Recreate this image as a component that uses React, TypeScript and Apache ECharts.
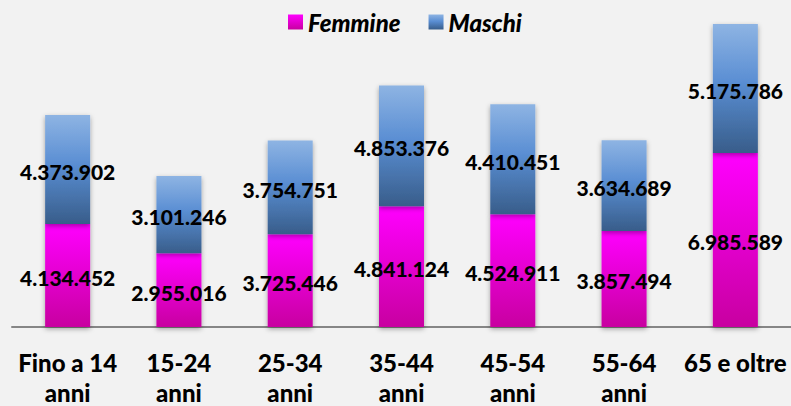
import React, { useEffect, useRef } from "react";
import * as echarts from "echarts";

const categories = ["Fino a 14\nanni", "15-24\nanni", "25-34\nanni", "35-44\nanni", "45-54\nanni", "55-64\nanni", "65 e oltre"];
const femmine = [4134452, 2955016, 3725446, 4841124, 4524911, 3857494, 6985589];
const maschi = [4373902, 3101246, 3754751, 4853376, 4410451, 3634689, 5175786];

const fmt = (v: number) => String(v).replace(/\B(?=(\d{3})+(?!\d))/g, ".");

const FONT = "Lato";

export default function App() {
  const ref = useRef<HTMLDivElement>(null);
  useEffect(() => {
    if (!ref.current) return;
    const chart = echarts.init(ref.current, null, { renderer: "svg" });
    const labelStyle = {
      show: true,
      position: "inside" as const,
      offset: [0, 2],
      formatter: (p: any) => fmt(p.value),
      fontFamily: FONT,
      fontWeight: 900,
      fontSize: 21,
      color: "#000",
    };
    const shadow = {
      shadowColor: "rgba(0,0,0,0.35)",
      shadowBlur: 5,
      shadowOffsetY: 2,
    };
    chart.setOption({
      animation: false,
      backgroundColor: "#f2f2f2",
      legend: {
        left: 283,
        top: 5,
        itemWidth: 15,
        itemHeight: 15,
        itemGap: 28,
        icon: "rect",
        textStyle: {
          fontFamily: FONT,
          fontWeight: 900,
          fontStyle: "italic",
          fontSize: 24,
          color: "#000",
        },
        data: ["Femmine", "Maschi"],
      },
      grid: { left: 12, right: 0, top: 23, bottom: 79, outerBoundsMode: "none", containLabel: false },
      xAxis: {
        type: "category",
        data: categories,
        axisLine: { lineStyle: { color: "#868686", width: 2 } },
        axisTick: { show: false },
        axisLabel: {
          fontFamily: FONT,
          fontWeight: 900,
          fontSize: 24,
          lineHeight: 30,
          color: "#000",
          margin: 20,
          interval: 0,
        },
      },
      yAxis: {
        type: "value",
        min: 0,
        max: 12200000,
        show: false,
        splitLine: { show: false },
      },
      series: [
        {
          name: "Femmine",
          type: "bar",
          stack: "tot",
          barWidth: 45,
          data: femmine,
          label: labelStyle,
          itemStyle: {
            ...shadow,
            color: new echarts.graphic.LinearGradient(0, 0, 0, 1, [
              { offset: 0, color: "#ff00ff" },
              { offset: 1, color: "#c800a0" },
            ]),
          },
        },
        {
          name: "Maschi",
          type: "bar",
          stack: "tot",
          barWidth: 45,
          data: maschi,
          label: labelStyle,
          itemStyle: {
            ...shadow,
            color: new echarts.graphic.LinearGradient(0, 0, 0, 1, [
              { offset: 0, color: "#8eb4e3" },
              { offset: 0.45, color: "#5a8ed3" },
              { offset: 1, color: "#385d8a" },
            ]),
          },
        },
      ],
    });
    return () => chart.dispose();
  }, []);
  return (
    <div
      ref={ref}
      style={{ position: "fixed", left: 0, top: 0, width: 791, height: 406 }}
    />
  );
}
